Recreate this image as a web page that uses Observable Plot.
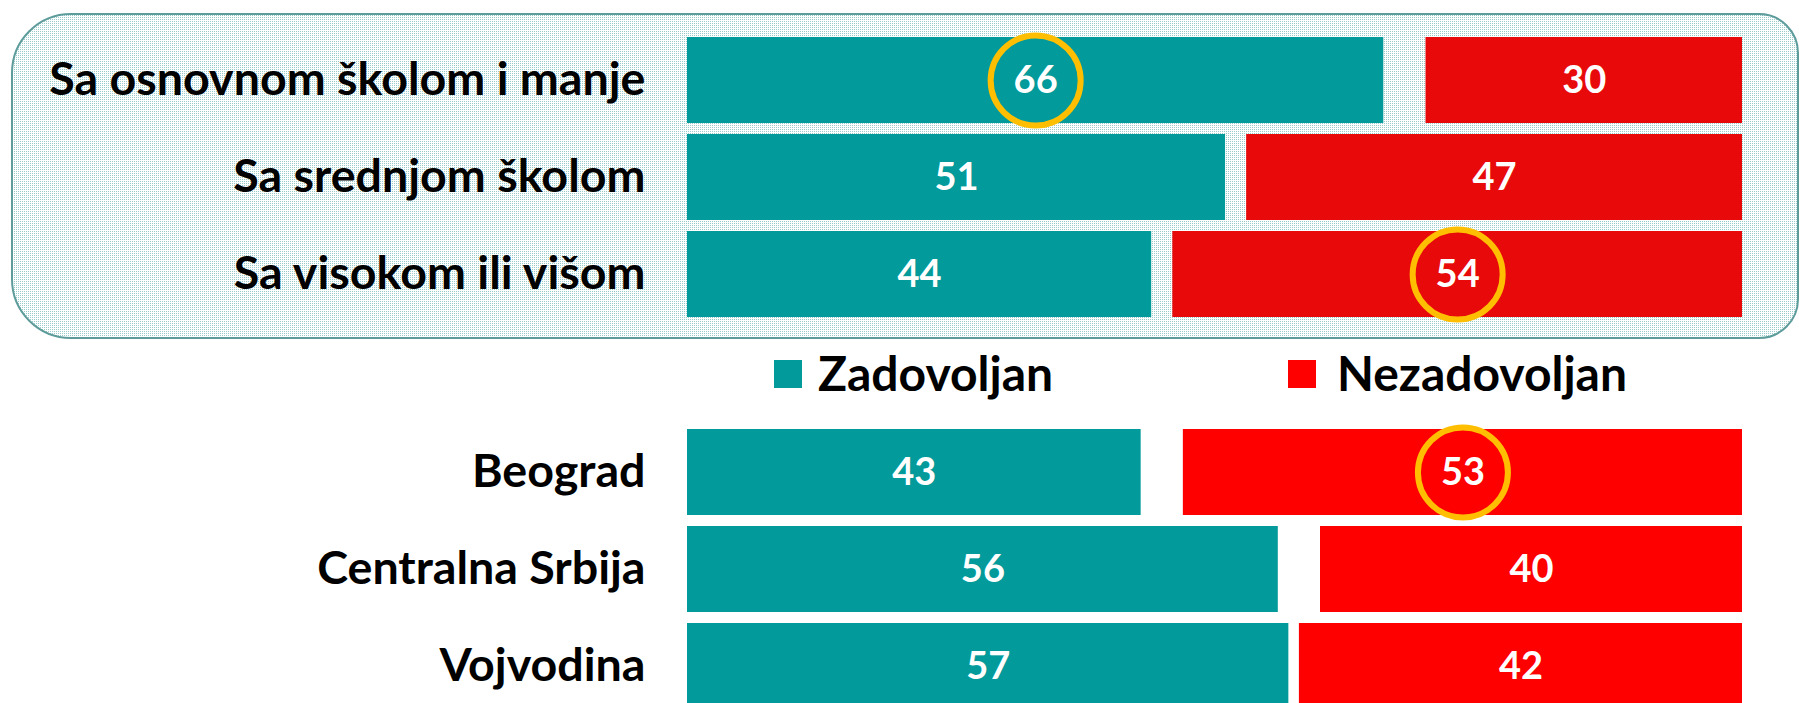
<!DOCTYPE html>
<html>
<head>
<meta charset="utf-8">
<script src="https://cdn.jsdelivr.net/npm/d3@7"></script>
<script src="https://cdn.jsdelivr.net/npm/@observablehq/plot@0.6"></script>
<style>
html, body { margin: 0; padding: 0; background: #fff; overflow: hidden; width: 1799px; height: 703px; }
#wrap { position: relative; width: 1799px; height: 703px; font-family: Lato, "Open Sans", sans-serif; }
#panel { position: absolute; left: 11px; top: 13px; width: 1784px; height: 322px;
  border: 2px solid #5e9c9c; border-radius: 60px 40px 40px 60px;
  background: repeating-conic-gradient(#98cbcb 0 25%, #ffffff 0 100%) 0 0 / 2px 2px; }
#top { position: absolute; left: 0; top: 0; }
#legend { position: absolute; left: 0; top: 345px; width: 1799px; height: 55px; }
#bottom { position: absolute; left: 0; top: 400px; }
.sw { position: absolute; width: 28px; height: 28px; top: 15px; }
.lt { position: absolute; top: 4px; font-size: 48px; line-height: 47px; font-weight: bold; color: #000; white-space: nowrap; }
</style>
</head>
<body>
<div id="wrap">
  <div id="panel"></div>
  <div id="top"></div>
  <div id="legend"></div>
  <div id="bottom"></div>
</div>
<script>
// ---- data ----
const seriesNames = ["Zadovoljan", "Nezadovoljan"];
const eduCategories = ["Sa osnovnom školom i manje", "Sa srednjom školom", "Sa visokom ili višom"];
const eduZadovoljan = [66, 51, 44];
const eduNezadovoljan = [30, 47, 54];
const regionCategories = ["Beograd", "Centralna Srbija", "Vojvodina"];
const regionZadovoljan = [43, 56, 57];
const regionNezadovoljan = [53, 40, 42];
const highlighted = [
  ["Sa osnovnom školom i manje", "Zadovoljan"],
  ["Sa visokom ili višom", "Nezadovoljan"],
  ["Beograd", "Nezadovoljan"]
];

function buildRows(cats, zad, nez) {
  const rows = [];
  cats.forEach((c, i) => {
    rows.push({cat: c, series: seriesNames[0], value: zad[i], x1: 0, x2: zad[i]});
    rows.push({cat: c, series: seriesNames[1], value: nez[i], x1: 100 - nez[i], x2: 100});
  });
  rows.forEach(r => r.mid = (r.x1 + r.x2) / 2);
  return rows;
}

function chart(cats, zad, nez, opts) {
  const rows = buildRows(cats, zad, nez);
  const hl = rows.filter(r => highlighted.some(([c, s]) => c === r.cat && s === r.series));
  return Plot.plot({
    width: 1799,
    height: opts.height,
    marginLeft: 687,
    marginRight: 57,
    marginTop: opts.marginTop,
    marginBottom: opts.marginBottom,
    style: {background: "transparent", fontFamily: "Lato, 'Open Sans', sans-serif", color: "#000", overflow: "visible"},
    x: {domain: [0, 100], axis: null},
    y: {domain: cats, padding: 0.116},
    color: {domain: seriesNames, range: opts.colors},
    marks: [
      Plot.axisY({tickSize: 0, tickPadding: 42, fontSize: 46.6, fontWeight: "bold", fill: "#000", label: null}),
      Plot.barX(rows, {y: "cat", x1: "x1", x2: "x2", fill: "series"}),
      Plot.text(rows, {y: "cat", x: "mid", text: d => String(d.value), fill: "#fff", fontSize: 38, fontWeight: "bold"}),
      Plot.dot(hl, {y: "cat", x: "mid", r: 45, stroke: "#ffbf00", strokeWidth: 6, fill: "none"})
    ]
  });
}

document.getElementById("top").append(
  chart(eduCategories, eduZadovoljan, eduNezadovoljan,
    {height: 345, marginTop: 24.6, marginBottom: 15.3, colors: ["#029a9a", "#e80a0a"]})
);
document.getElementById("bottom").append(
  chart(regionCategories, regionZadovoljan, regionNezadovoljan,
    {height: 321, marginTop: 16, marginBottom: 0, colors: ["#029a9a", "#ff0000"]})
);

// legend
const legendColors = ["#029a9a", "#ff0000"];
const legendSwatchX = [774, 1288];
const legendTextX = [818, 1337];
const legend = document.getElementById("legend");
seriesNames.forEach((name, i) => {
  const sw = document.createElement("div");
  sw.className = "sw";
  sw.style.left = legendSwatchX[i] + "px";
  sw.style.background = legendColors[i];
  legend.append(sw);
  const t = document.createElement("div");
  t.className = "lt";
  t.style.left = legendTextX[i] + "px";
  t.textContent = name;
  legend.append(t);
});
</script>
</body>
</html>
